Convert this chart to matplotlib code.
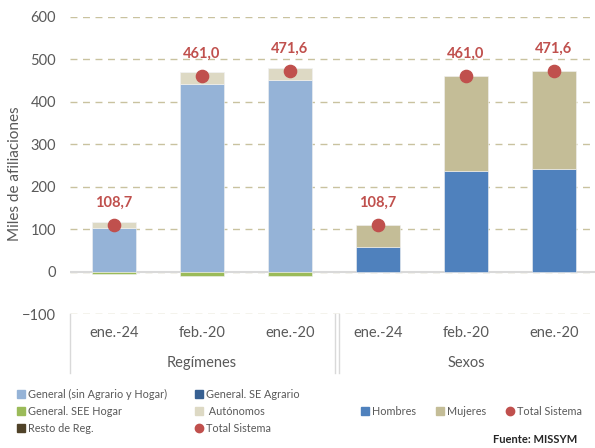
import matplotlib.pyplot as plt
from matplotlib.patches import Patch
from matplotlib.lines import Line2D
import numpy as np

plt.rcParams['font.family'] = ['Lato', 'DejaVu Sans']

periodos = ['ene.-24', 'feb.-20', 'ene.-20']
grupos = ['Regímenes', 'Sexos']

# Regímenes (miles)
general = [103.5, 441.5, 452.0]
agrario = [0.0, 0.0, 0.0]
hogar = [-5.5, -9.5, -9.5]
autonomos = [13.8, 28.5, 28.3]
resto = [0.0, 0.0, 0.0]

# Sexos (miles)
hombres = [57.0, 236.0, 242.4]
mujeres = [51.7, 225.0, 229.2]

total = [108.7, 461.0, 471.6]
total_txt = ['108,7', '461,0', '471,6']

c_general = '#95B3D7'
c_agrario = '#376092'
c_hogar = '#9BBB59'
c_auton = '#DDD9C4'
c_resto = '#4F4228'
c_total = '#C0504D'
c_homb = '#4F81BD'
c_muj = '#C4BD97'
gris = '#595959'

fig = plt.figure(figsize=(5.95, 4.48), dpi=100)
ax = fig.add_axes([70 / 595, 1 - 314 / 448, 528 / 595, 297 / 448])

x_reg = np.arange(3)
x_sex = np.arange(3) + 3
w = 0.51
ec = dict(edgecolor='#F2F2F2', linewidth=0.4)

# stacked bars, positives go up, negatives go down
pos = np.zeros(3)
neg = np.zeros(3)
for vals, col in [(general, c_general), (agrario, c_agrario), (hogar, c_hogar),
                  (autonomos, c_auton), (resto, c_resto)]:
    v = np.array(vals)
    bottom = np.where(v >= 0, pos, neg)
    ax.bar(x_reg, v, w, bottom=bottom, color=col, zorder=3, **ec)
    pos = pos + np.where(v >= 0, v, 0)
    neg = neg + np.where(v < 0, v, 0)

ax.bar(x_sex, hombres, w, color=c_homb, zorder=3, **ec)
ax.bar(x_sex, mujeres, w, bottom=hombres, color=c_muj, zorder=3, **ec)

xs_all = np.concatenate([x_reg, x_sex])
tot_all = total + total
txt_all = total_txt + total_txt
ax.plot(xs_all, tot_all, 'o', color=c_total, ms=8.8, zorder=5, linestyle='none')
for xi, yi, t in zip(xs_all, tot_all, txt_all):
    ax.annotate(t, (xi, yi), xytext=(0, 16), textcoords='offset points',
                ha='center', va='center', color=c_total, fontsize=10.5,
                fontweight='bold')

ax.set_xlim(-0.5, 5.5)
ax.set_ylim(-100, 600)
ax.set_yticks(range(-100, 601, 100))
ax.tick_params(axis='y', length=0, pad=10, labelcolor=gris, labelsize=10.5)
ax.set_xticks([])
for s in ax.spines.values():
    s.set_visible(False)
ax.yaxis.grid(True, color='#C9C29F', linestyle=(0, (5, 4)), linewidth=1, zorder=0)
ax.axhline(0, color='#D9D9D9', linewidth=1.5, zorder=2)
fig.text(15 / 595, 1 - 174 / 448, 'Miles de afiliaciones', rotation=90,
         ha='center', va='center', color=gris, fontsize=11)

# multi-level category axis
trans = ax.get_xaxis_transform()
for xi, p in zip(xs_all, periodos + periodos):
    ax.text(xi, -0.064, p, transform=trans, ha='center', va='center',
            color=gris, fontsize=10.5)
ax.text(1, -0.165, grupos[0], transform=trans, ha='center', va='center',
        color=gris, fontsize=10.5)
ax.text(4, -0.165, grupos[1], transform=trans, ha='center', va='center',
        color=gris, fontsize=10.5)
for xl in [-0.5, 2.51, 2.56]:
    ax.plot([xl, xl], [0, -0.2], transform=trans, color='#D9D9D9',
            linewidth=1, clip_on=False)

# legends
sq = dict(handlelength=0.75, handleheight=0.75, handletextpad=0.3,
          frameon=False, fontsize=7.8, labelspacing=0.55, borderpad=0,
          borderaxespad=0)
h1 = [Patch(color=c_general, label='General (sin Agrario y Hogar)'),
      Patch(color=c_hogar, label='General. SEE Hogar'),
      Patch(color=c_resto, label='Resto de Reg.')]
h2 = [Patch(color=c_agrario, label='General. SE Agrario'),
      Patch(color=c_auton, label=' Autónomos'),
      Line2D([], [], marker='o', color=c_total, ls='none', ms=6,
             label='Total Sistema')]
h3 = [Patch(color=c_homb, label='Hombres'),
      Patch(color=c_muj, label='Mujeres'),
      Line2D([], [], marker='o', color=c_total, ls='none', ms=6,
             label='Total Sistema')]
fig.legend(handles=h1, loc='upper left', bbox_to_anchor=(17 / 595, 1 - 389 / 448),
           labelcolor=gris, **sq)
fig.legend(handles=h2, loc='upper left', bbox_to_anchor=(195 / 595, 1 - 389 / 448),
           labelcolor=gris, **sq)
fig.legend(handles=h3, loc='center left', bbox_to_anchor=(361 / 595, 1 - 411 / 448),
           labelcolor=gris, ncol=3, columnspacing=1.8, **sq)

fig.text(577 / 595, 1 - 439 / 448, 'Fuente: MISSYM', ha='right', va='center',
         fontsize=8, fontweight='bold', color='#262626')

fig.savefig('out.png', dpi=100)
